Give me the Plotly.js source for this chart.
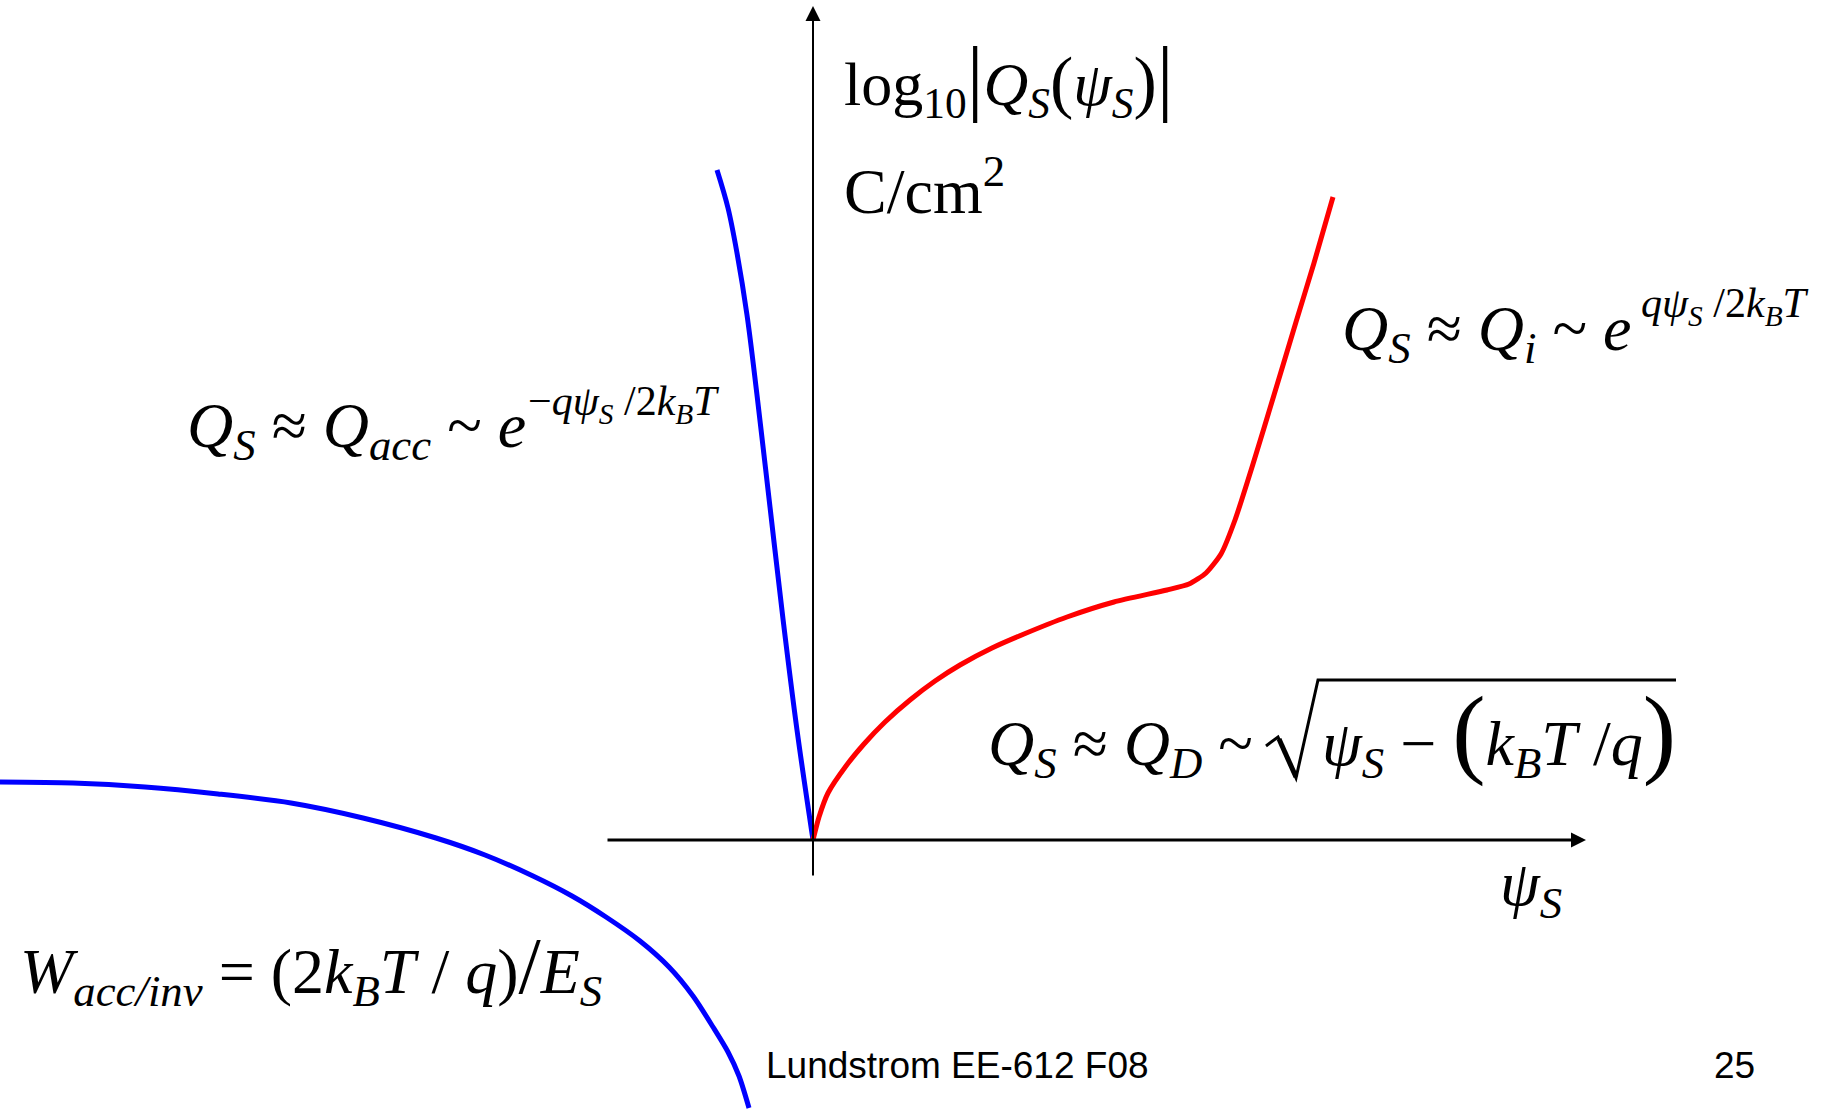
<!DOCTYPE html>
<html>
<head>
<meta charset="utf-8">
<script src="https://cdn.plot.ly/plotly-3.0.1.min.js"></script>
<style>
  html, body { margin: 0; padding: 0; background: #ffffff; }
  #chart { width: 1833px; height: 1113px; }
</style>
</head>
<body>
<div id="chart"></div>
<script>
// Surface charge vs. surface potential (schematic), log scale on the vertical axis.
// Units are arbitrary: psiS along x, log10|QS| along y, origin at flat band.

// Accumulation branch (psiS < 0)
const accPsi = [0, -0.16, -0.30, -0.43, -0.56, -0.66, -0.76, -0.85, -0.96];
const accLogQ = [0, 1.10, 2.21, 3.33, 4.45, 5.25, 5.87, 6.32, 6.70];

// Depletion + inversion branch (psiS > 0)
const invPsi = [0, 0.06, 0.15, 0.33, 0.51, 0.72, 0.97, 1.22, 1.47, 1.79, 2.11, 2.54, 3.01, 3.54, 3.76, 3.93, 4.08, 4.22, 4.40, 4.61, 4.83, 5.01, 5.20];
const invLogQ = [0, 0.23, 0.47, 0.74, 0.96, 1.18, 1.40, 1.59, 1.75, 1.92, 2.06, 2.23, 2.38, 2.50, 2.56, 2.67, 2.86, 3.20, 3.76, 4.45, 5.18, 5.77, 6.43];

// Arc illustrating the accumulation / inversion layer width
const arcX = [-8.13, -7.40, -6.68, -5.95, -5.22, -4.50, -3.77, -3.28, -2.80, -2.41, -2.07, -1.73, -1.44, -1.20, -1.00, -0.85, -0.74, -0.64];
const arcY = [0.58, 0.57, 0.53, 0.46, 0.37, 0.22, 0.02, -0.15, -0.36, -0.56, -0.77, -1.01, -1.27, -1.56, -1.87, -2.12, -2.36, -2.68];

// Axis extents
const psiAxisStart = -2.07, psiAxisEnd = 7.73;
const qAxisStart = -0.37, qAxisEnd = 8.34;

const W = 1833, H = 1113;
const px = x => x / W;
const py = y => 1 - y / H;

const serif = 'Liberation Serif, Times New Roman, serif';
const sans = 'Liberation Sans, Arial, sans-serif';
const FS = 64;   // formula size
const ES = 42;   // exponent size

const curve = (x, y, color, smooth) => ({
  x: x, y: y, mode: 'lines', hoverinfo: 'skip',
  line: { color: color, width: 5, shape: 'spline', smoothing: smooth }
});

const traces = [
  curve(accPsi, accLogQ, '#0000ff', 1),
  curve(invPsi, invLogQ, '#ff0000', 0.6),
  curve(arcX, arcY, '#0000ff', 0.8)
];

function label(text, x, y, size, font) {
  return {
    text: text, xref: 'paper', yref: 'paper', x: px(x), y: py(y),
    xanchor: 'left', yanchor: 'bottom', align: 'left', showarrow: false,
    font: { family: font || serif, size: size || FS, color: '#000000' }
  };
}

const sized = (s, n) => '<span style="font-size:' + n + 'px">' + s + '</span>';
const QS = '<i>Q</i><sub><i>S</i></sub>';

const annotations = [
  // axes with arrow heads
  { x: psiAxisEnd, y: 0, ax: psiAxisStart, ay: 0, xref: 'x', yref: 'y', axref: 'x', ayref: 'y',
    text: '', showarrow: true, arrowhead: 2, arrowsize: 1, arrowwidth: 3, arrowcolor: '#000000' },
  { x: 0, y: qAxisEnd, ax: 0, ay: qAxisStart, xref: 'x', yref: 'y', axref: 'x', ayref: 'y',
    text: '', showarrow: true, arrowhead: 2, arrowsize: 1.5, arrowwidth: 2, arrowcolor: '#000000' },

  // vertical axis title
  label('log<sub>10</sub>' + sized('|', 84) + QS + sized('(', 70) + '<i>ψ</i><sub><i>S</i></sub>' + sized(')', 70) + sized('|', 84), 842, 129, 62),
  label('C/cm<sup>2</sup>', 842, 229),

  // accumulation
  label(QS + ' ≈ <i>Q</i><sub><i>acc</i></sub> ~ <i>e</i>', 185, 472),
  label('−<i>qψ</i><sub><i>S</i></sub> /2<i>k</i><sub><i>B</i></sub><i>T</i>', 526, 432, ES),

  // inversion
  label(QS + ' ≈ <i>Q</i><sub><i>i</i></sub> ~ <i>e</i>', 1340, 375),
  label('<i>qψ</i><sub><i>S</i></sub> /2<i>k</i><sub><i>B</i></sub><i>T</i>', 1639, 334, ES),

  // depletion
  label(QS + ' ≈ <i>Q</i><sub><i>D</i></sub> ~', 986, 790),
  label('<i>ψ</i><sub><i>S</i></sub> − ' + sized('(', 100) + '<i>k</i><sub><i>B</i></sub><i>T</i> /<i>q</i>' + sized(')', 100), 1320, 790),

  // layer width
  label('<i>W</i><sub><i>acc/inv</i></sub> = (2<i>k</i><sub><i>B</i></sub><i>T</i> / <i>q</i>)' + sized('/', 80) + '<i>E</i><sub><i>S</i></sub>', 18, 1018),

  // horizontal axis title
  label('<i>ψ</i><sub><i>S</i></sub>', 1498, 930),

  // footer
  label('Lundstrom EE-612 F08', 764, 1088, 37, sans),
  label('25', 1712, 1088, 37, sans)
];

// radical sign with its vinculum
const radical = [[1266, 746], [1278, 737], [1296, 778], [1318, 680], [1676, 680]];
const radicalPath = radical.map((p, i) => (i ? 'L' : 'M') + px(p[0]).toFixed(5) + ',' + py(p[1]).toFixed(5)).join(' ');

const shapes = [
  { type: 'path', xref: 'paper', yref: 'paper', path: radicalPath,
    line: { color: '#000000', width: 3 } },
  // heavier down-stroke of the radical
  { type: 'line', xref: 'paper', yref: 'paper', x0: px(1279), y0: py(739), x1: px(1296), y1: py(777),
    line: { color: '#000000', width: 5 } }
];

const layout = {
  width: W, height: H,
  margin: { l: 0, r: 0, t: 0, b: 0, pad: 0 },
  paper_bgcolor: '#ffffff', plot_bgcolor: '#ffffff',
  showlegend: false,
  xaxis: { range: [-8.13, 10.20], visible: false, fixedrange: true },
  yaxis: { range: [-2.73, 8.40], visible: false, fixedrange: true },
  annotations: annotations,
  shapes: shapes
};

Plotly.newPlot('chart', traces, layout, { staticPlot: true, displayModeBar: false });
</script>
</body>
</html>
